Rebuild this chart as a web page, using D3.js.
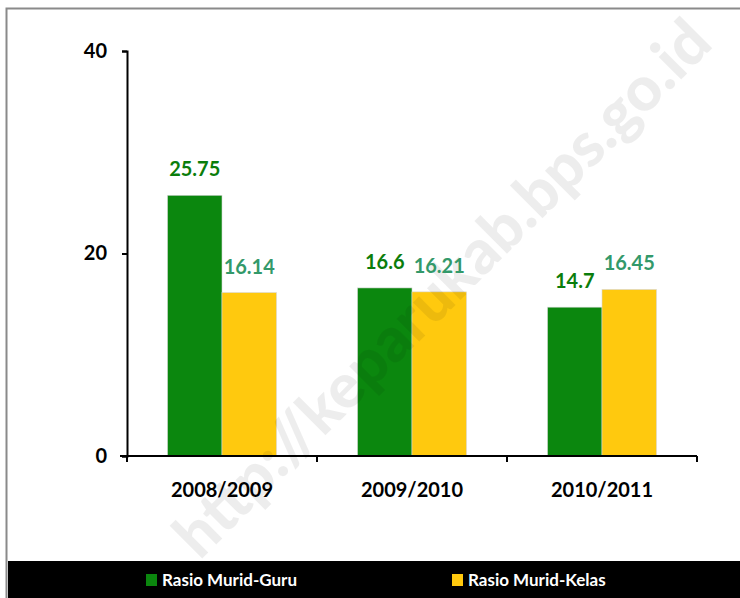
<!DOCTYPE html>
<html>
<head>
<meta charset="utf-8">
<script src="https://d3js.org/d3.v7.min.js"></script>
</head>
<body style="margin:0; background:#fff">
<svg id="chart"></svg>
<script>
// data
var years = ["2008/2009", "2009/2010", "2010/2011"];
var seriesNames = ["Rasio Murid-Guru", "Rasio Murid-Kelas"];
var muridGuru = [25.75, 16.6, 14.7];
var muridKelas = [16.14, 16.21, 16.45];
var yTicks = [0, 20, 40];

var colors = ["#0b870e", "#ffc90e"];
var labelColors = ["#0b7d0b", "#33996a"];
var W = 740, H = 598;
var font = "Lato, 'Open Sans', sans-serif";

var svg = d3.select("#chart").attr("width", W).attr("height", H);

// outer frame
svg.append("rect").attr("x", 6.5).attr("y", 8.5).attr("width", 760).attr("height", 620)
    .attr("fill", "#fff").attr("stroke", "#8a8a8a").attr("stroke-width", 2);

var x0 = d3.scaleBand().domain(years).range([127, 697]).paddingInner(0).paddingOuter(0);
var x1 = d3.scaleBand().domain([0, 1]).range([0, 109]);
var y = d3.scaleLinear().domain([0, 40]).range([456, 51]);

var series = [muridGuru, muridKelas];
var groupOff = (x0.bandwidth() - 109) / 2;

// bars
series.forEach(function (vals, si) {
    svg.append("g").selectAll("rect")
        .data(vals)
        .join("rect")
        .attr("x", (d, i) => x0(years[i]) + groupOff + x1(si))
        .attr("y", d => y(d))
        .attr("width", x1.bandwidth())
        .attr("height", d => y(0) - y(d))
        .attr("fill", colors[si])
        .attr("stroke", "#d8d8d8").attr("stroke-width", 0.6);
});

// watermark, lies faintly over the bars
svg.append("text")
    .attr("transform", "translate(446,292) rotate(-45)")
    .attr("text-anchor", "middle").attr("dominant-baseline", "middle")
    .style("font-family", font).style("font-weight", "900").style("font-size", "62px")
    .style("fill", "#000").style("fill-opacity", 0.07)
    .text("http://keparukab.bps.go.id");

// value labels
series.forEach(function (vals, si) {
    svg.append("g").selectAll("text")
        .data(vals)
        .join("text")
        .attr("x", (d, i) => x0(years[i]) + groupOff + x1(si) + x1.bandwidth() / 2)
        .attr("y", d => y(d) - 19)
        .attr("text-anchor", "middle")
        .style("font-family", font).style("font-weight", "bold").style("font-size", "20px")
        .style("fill", labelColors[si])
        .text(d => d);
});

// y axis
var yAxis = svg.append("g").attr("transform", "translate(127,0)")
    .call(d3.axisLeft(y).tickValues(yTicks).tickSize(5).tickPadding(15));
yAxis.selectAll("text").style("font-family", font).style("font-weight", "bold")
    .style("font-size", "20px").style("fill", "#000");
yAxis.select(".domain").attr("stroke-width", 2);
yAxis.selectAll("line").attr("stroke-width", 2);

// x axis
var xAxis = svg.append("g").attr("transform", "translate(0,456)")
    .call(d3.axisBottom(x0).tickSize(0).tickPadding(27));
xAxis.selectAll("text").style("font-family", font).style("font-weight", "bold")
    .style("font-size", "20px").style("fill", "#000");
xAxis.select(".domain").attr("d", "M120,0H697").attr("stroke-width", 2);
svg.append("g").selectAll("line")
    .data(years.concat(["end"]))
    .join("line")
    .attr("x1", (d, i) => i < years.length ? x0(d) : x0.range()[1])
    .attr("x2", (d, i) => i < years.length ? x0(d) : x0.range()[1])
    .attr("y1", 456).attr("y2", 462)
    .attr("stroke", "#000").attr("stroke-width", 2);

// legend band
svg.append("rect").attr("x", 8).attr("y", 561).attr("width", W).attr("height", H - 561).attr("fill", "#000");
var legX = [146, 452];
seriesNames.forEach(function (name, i) {
    svg.append("rect").attr("x", legX[i]).attr("y", 574).attr("width", 11).attr("height", 12).attr("fill", colors[i]);
    svg.append("text").attr("x", legX[i] + 16).attr("y", 586)
        .style("font-family", font).style("font-weight", "bold").style("font-size", "17px")
        .style("fill", "#fff").text(name);
});
</script>
</body>
</html>
